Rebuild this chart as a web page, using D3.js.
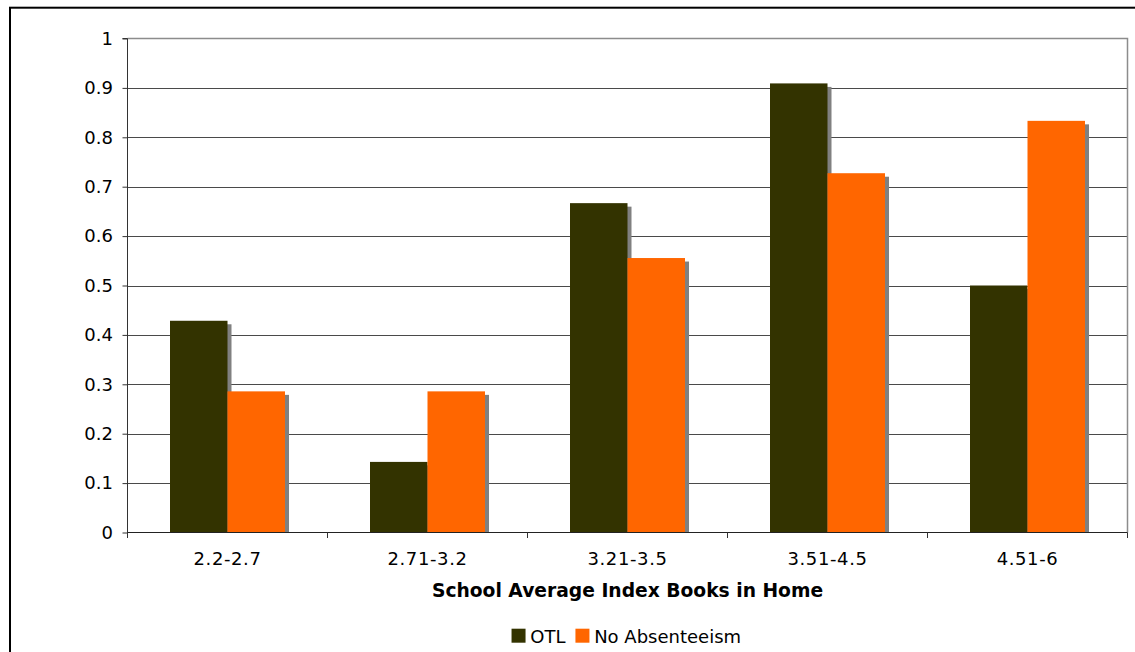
<!DOCTYPE html>
<html>
<head>
<meta charset="utf-8">
<script src="https://cdn.jsdelivr.net/npm/d3@7"></script>
<style>
  html, body { margin: 0; padding: 0; background: #fff; }
  svg { display: block; }
  text { font-family: "DejaVu Sans", Verdana, sans-serif; fill: #000; }
</style>
</head>
<body>
<svg id="chart" width="1135" height="652"></svg>
<script>
// ---- data ----
const categories = ["2.2-2.7", "2.71-3.2", "3.21-3.5", "3.51-4.5", "4.51-6"];
const seriesNames = ["OTL", "No Absenteeism"];
const otlValues = [0.4286, 0.1429, 0.6667, 0.9091, 0.5];
const noAbsenteeismValues = [0.2857, 0.2857, 0.5556, 0.7273, 0.8333];
const yTickValues = [0, 0.1, 0.2, 0.3, 0.4, 0.5, 0.6, 0.7, 0.8, 0.9, 1];
const yTickLabels = ["0", "0.1", "0.2", "0.3", "0.4", "0.5", "0.6", "0.7", "0.8", "0.9", "1"];
const xAxisTitle = "School Average Index Books in Home";
const seriesColors = ["#333300", "#FF6600"];

const seriesValues = [otlValues, noAbsenteeismValues];
const rows = [];
categories.forEach((c, i) => {
  seriesNames.forEach((s, j) => rows.push({ cat: c, series: s, value: seriesValues[j][i], color: seriesColors[j] }));
});

// ---- layout ----
const svg = d3.select("#chart");
const plotLeft = 127.5, plotRight = 1127.5, plotTop = 38.5, plotBottom = 532.5;

const x0 = d3.scaleBand().domain(categories).range([plotLeft, plotRight]).padding(0);
const groupW = x0.bandwidth() * 0.575;
const x1 = d3.scaleBand().domain(seriesNames)
  .range([(x0.bandwidth() - groupW) / 2, (x0.bandwidth() + groupW) / 2]).padding(0);
const y = d3.scaleLinear().domain([0, 1]).range([plotBottom, plotTop]);

// outer border
svg.append("rect")
  .attr("x", 10).attr("y", 7.7).attr("width", 1200).attr("height", 700)
  .attr("fill", "none").attr("stroke", "#000").attr("stroke-width", 2);

// gridlines
svg.append("g").selectAll("line")
  .data(yTickValues.filter(v => v > 0 && v < 1))
  .join("line")
  .attr("x1", plotLeft).attr("x2", plotRight)
  .attr("y1", d => Math.round(y(d)) + 0.5).attr("y2", d => Math.round(y(d)) + 0.5)
  .attr("stroke", "#4a4a4a").attr("stroke-width", 1);

// plot area border (top + right)
svg.append("path")
  .attr("d", `M${plotLeft},${plotTop}H${plotRight}V${plotBottom}`)
  .attr("fill", "none").attr("stroke", "#8c8c8c").attr("stroke-width", 1.5);

// shadows
const shadowDx = 4, shadowDy = 3.5;
svg.append("g").selectAll("rect")
  .data(rows)
  .join("rect")
  .attr("x", d => x0(d.cat) + x1(d.series) + shadowDx)
  .attr("y", d => y(d.value) + shadowDy)
  .attr("width", x1.bandwidth())
  .attr("height", d => Math.max(0, y(0) - y(d.value) - shadowDy))
  .attr("fill", "#808080");

// bars
svg.append("g").selectAll("rect")
  .data(rows)
  .join("rect")
  .attr("x", d => x0(d.cat) + x1(d.series))
  .attr("y", d => y(d.value))
  .attr("width", x1.bandwidth())
  .attr("height", d => y(0) - y(d.value))
  .attr("fill", d => d.color);

// y axis
const yAxis = d3.axisLeft(y)
  .tickValues(yTickValues)
  .tickFormat((d, i) => yTickLabels[i])
  .tickSize(5).tickPadding(9.5);
const gy = svg.append("g").attr("transform", `translate(${plotLeft},0)`).call(yAxis);
gy.select(".domain").attr("stroke", "#333").attr("d", `M-5,${plotTop}H0V${plotBottom + 5}`);
gy.selectAll(".tick line").attr("stroke", "#333");
gy.selectAll("text").style("font-size", "18px").style("font-family", '"DejaVu Sans", Verdana, sans-serif').attr("fill", "#000");

// x axis (labels centered, ticks at boundaries)
const xAxis = d3.axisBottom(x0).tickSize(0).tickPadding(19.5);
const gx = svg.append("g").attr("transform", `translate(0,${plotBottom})`).call(xAxis);
gx.select(".domain").attr("stroke", "#222").attr("d", `M${plotLeft},0H${plotRight}`);
gx.selectAll("text")
  .style("font-size", "18px")
  .style("letter-spacing", "0.6px")
  .style("font-family", '"DejaVu Sans", Verdana, sans-serif')
  .attr("fill", "#000");
const boundaries = categories.map(c => x0(c)).concat([x0.range()[1]]);
gx.append("g").selectAll("line")
  .data(boundaries)
  .join("line")
  .attr("x1", d => d).attr("x2", d => d)
  .attr("y1", 0).attr("y2", 5.5)
  .attr("stroke", "#333");

// x axis title
svg.append("text")
  .attr("x", (plotLeft + plotRight) / 2)
  .attr("y", 596.5)
  .attr("text-anchor", "middle")
  .style("font-size", "18.7px")
  .style("font-weight", "bold")
  .text(xAxisTitle);

// legend
const legend = svg.append("g");
const sw = 14, gapSwText = 4.7, gapItems = 10;
const items = legend.selectAll("g").data(seriesNames).join("g");
items.append("rect")
  .attr("width", sw).attr("height", sw).attr("y", -sw)
  .attr("fill", (d, i) => seriesColors[i]);
items.append("text")
  .attr("x", sw + gapSwText).attr("y", 0)
  .style("font-size", "18px")
  .text(d => d);
const widths = [];
items.each(function () {
  const w = sw + gapSwText + d3.select(this).select("text").node().getComputedTextLength();
  widths.push(w);
});
const total = d3.sum(widths) + gapItems * (widths.length - 1);
let startX = 626.3 - total / 2;
items.attr("transform", (d, i) => {
  const t = `translate(${startX},642.7)`;
  startX += widths[i] + gapItems;
  return t;
});
</script>
</body>
</html>
